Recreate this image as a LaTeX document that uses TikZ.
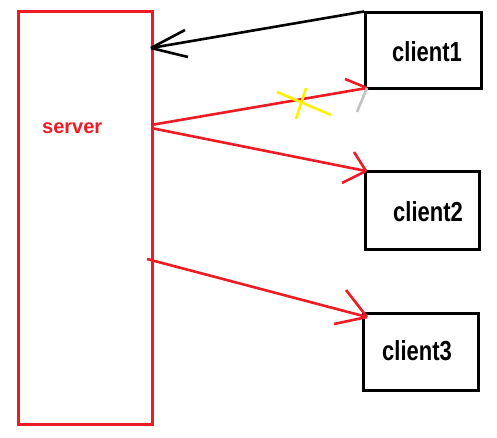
\documentclass[tikz,border=0pt]{standalone}
\usepackage{fontspec}
\setmainfont{Liberation Sans}
\definecolor{pred}{HTML}{ED1C24}
\definecolor{pyellow}{HTML}{FFF200}
\definecolor{pgray}{HTML}{C3C3C3}
\begin{document}
\begin{tikzpicture}[x=1pt,y=-1pt,
  box/.style={draw=black,line width=3pt,inner sep=0pt,rectangle},
  srvbox/.style={draw=pred,line width=3pt,inner sep=0pt,rectangle},
  clabel/.style={inner sep=0pt,anchor=base west,font=\bfseries\fontsize{22}{22}\selectfont},
  slabel/.style={inner sep=0pt,anchor=base west,text=pred,font=\bfseries\fontsize{20}{20}\selectfont},
  blk/.style={draw=black,line width=2.6pt},
  redl/.style={draw=pred,line width=2.6pt},
  yel/.style={draw=pyellow,line width=2.6pt},
  gry/.style={draw=pgray,line width=2.6pt}]
\useasboundingbox (0,0) rectangle (497,438);
\fill[white] (0,0) rectangle (497,438);
% nodes
\node[srvbox,minimum width=134pt,minimum height=412pt] (server) at (85,218) {};
\node[box,minimum width=116pt,minimum height=76pt] (c1) at (423.5,51) {};
\node[box,minimum width=114pt,minimum height=77pt] (c2) at (422,210.5) {};
\node[box,minimum width=115pt,minimum height=77pt] (c3) at (420.5,351.5) {};
\node[slabel] (slbl) at (42,134) {server};
\node[clabel] (l1) at (392,62) {\scalebox{1}[1.25]{client1}};
\node[clabel] (l2) at (393,222) {\scalebox{1}[1.25]{client2}};
\node[clabel] (l3) at (382,360) {\scalebox{1}[1.25]{client3}};
% coordinates
\coordinate (s0) at (151,48);
\coordinate (s1) at (151,125);
\coordinate (s2) at (151,128);
\coordinate (s3) at (147,259);
\coordinate (t1) at (367,88);
\coordinate (t2) at (366,171);
\coordinate (t3) at (367,317);
% black arrow
\draw[blk] (c1.north west) -- (s0);
\draw[blk] (s0) -- (185,30);
\draw[blk] (s0) -- (188,57);
% red arrow 1 (crossed)
\draw[redl] (s1) -- (t1);
\draw[redl] (t1) -- (345,79);
\draw[gry] (t1) -- (357,112);
\draw[yel] (277,92) -- (331,115);
\draw[yel] (296,119) -- (306,88);
% red arrow 2
\draw[redl] (s2) -- (t2);
\draw[redl] (t2) -- (354,152);
\draw[redl] (t2) -- (342,183);
% red arrow 3
\draw[redl] (s3) -- (t3);
\draw[redl] (t3) -- (346,290);
\draw[redl] (t3) -- (334,324);
\end{tikzpicture}
\end{document}
